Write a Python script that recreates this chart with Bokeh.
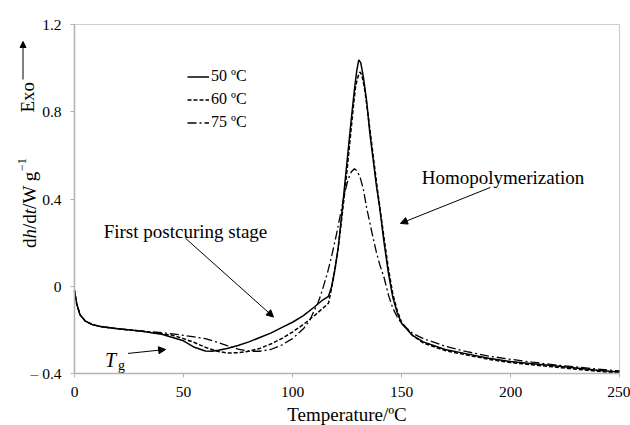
import math
from bokeh.plotting import figure
from bokeh.models import (Label, Arrow, NormalHead, BoxAnnotation, Legend, LegendItem,
                          FixedTicker, Range1d)
from bokeh.embed import file_html
from bokeh.resources import INLINE

# ---------------- data ----------------
t50 = [0, 1, 2.5, 5, 8, 12, 20, 30, 40, 45, 50, 55, 60, 63, 66, 70, 75, 80, 85, 90,
       95, 100, 105, 110, 114, 116.5, 118, 119.5, 121, 122.5, 124, 125.5, 127, 128.5,
       129.5, 130.4, 131.3, 132.5, 134, 135.5, 137, 138.5, 140, 142, 144, 146, 148,
       150, 155, 160, 170, 180, 190, 200, 210, 220, 230, 240, 250]
y50 = [-0.02, -0.08, -0.13, -0.16, -0.175, -0.185, -0.195, -0.205, -0.22, -0.235,
       -0.25, -0.28, -0.297, -0.298, -0.293, -0.285, -0.272, -0.255, -0.235, -0.215,
       -0.19, -0.165, -0.135, -0.095, -0.062, -0.046, 0.0, 0.08, 0.18, 0.32, 0.47,
       0.62, 0.77, 0.91, 0.99, 1.038, 1.025, 0.96, 0.85, 0.70, 0.58, 0.46, 0.36, 0.20,
       0.06, -0.05, -0.12, -0.17, -0.225, -0.255, -0.29, -0.31, -0.33, -0.345, -0.355,
       -0.365, -0.375, -0.385, -0.393]

t60 = [0, 1, 2.5, 5, 8, 12, 20, 30, 40, 45, 50, 55, 60, 65, 70, 75, 80, 85, 90, 95,
       100, 105, 110, 114, 116.5, 117.5, 119, 120.5, 122, 123.5, 125, 126.5, 128, 129,
       130, 130.9, 131.8, 133, 134.5, 136, 137.5, 139, 140.5, 142, 144, 146, 148, 150,
       155, 160, 170, 180, 190, 200, 210, 220, 230, 240, 250]
y60 = [-0.02, -0.08, -0.13, -0.16, -0.175, -0.185, -0.195, -0.205, -0.218, -0.225,
       -0.24, -0.258, -0.28, -0.297, -0.306, -0.305, -0.298, -0.285, -0.265, -0.24,
       -0.21, -0.175, -0.135, -0.10, -0.078, -0.03, 0.05, 0.14, 0.26, 0.39, 0.53, 0.68,
       0.83, 0.92, 0.96, 0.982, 0.97, 0.91, 0.80, 0.68, 0.56, 0.44, 0.33, 0.22, 0.08,
       -0.035, -0.11, -0.165, -0.225, -0.26, -0.295, -0.315, -0.335, -0.35, -0.36,
       -0.37, -0.38, -0.39, -0.398]

t75 = [0, 1, 2.5, 5, 8, 12, 20, 30, 40, 45, 50, 55, 60, 65, 70, 75, 80, 85, 90, 95,
       100, 105, 108, 110, 111.5, 113, 114.5, 116, 118, 120, 122, 124, 125.5, 127,
       128.4, 129.5, 131, 132.5, 134, 135.5, 137, 138.5, 140, 142, 144, 146, 148, 150,
       155, 160, 170, 180, 190, 200, 210, 220, 230, 240, 250]
y75 = [-0.02, -0.08, -0.13, -0.16, -0.175, -0.185, -0.195, -0.205, -0.213, -0.218,
       -0.225, -0.232, -0.24, -0.255, -0.272, -0.288, -0.298, -0.298, -0.29, -0.27,
       -0.24, -0.195, -0.155, -0.11, -0.08, -0.04, 0.01, 0.06, 0.14, 0.23, 0.33, 0.43,
       0.49, 0.525, 0.539, 0.53, 0.50, 0.445, 0.36, 0.29, 0.22, 0.155, 0.10, 0.04,
       -0.04, -0.10, -0.14, -0.17, -0.215, -0.24, -0.275, -0.30, -0.32, -0.335, -0.348,
       -0.36, -0.37, -0.38, -0.388]

series_labels = ["50 ºC", "60 ºC", "75 ºC"]
x_ticks = [0, 50, 100, 150, 200, 250]
y_ticks = [-0.4, 0, 0.4, 0.8, 1.2]
y_tick_labels = ["– 0.4", "0", "0.4", "0.8", "1.2"]
X_MIN, X_MAX = 0, 250
Y_MIN, Y_MAX = -0.4, 1.2

FONT = "Liberation Serif"

# ---------------- layout (pixels) ----------------
W, H = 630, 425
FL, FR, FT, FB = 74, 619, 24, 373      # plot-area edges in the picture
kx = (FR - FL) / (X_MAX - X_MIN)
ky = (FB - FT) / (Y_MAX - Y_MIN)

# the frame spans the whole canvas; axes are pinned to the data area
p = figure(width=W, height=H, output_backend="svg", toolbar_location=None,
           x_range=Range1d(X_MIN - FL / kx, X_MAX + (W - FR) / kx),
           y_range=Range1d(Y_MIN - (H - FB) / ky, Y_MAX + FT / ky),
           min_border=0)
p.background_fill_color = "white"
p.border_fill_color = "white"
p.outline_line_color = None
p.grid.visible = False

p.xaxis.fixed_location = Y_MIN
p.yaxis.fixed_location = X_MIN
p.xaxis.bounds = (X_MIN, X_MAX)
p.yaxis.bounds = (Y_MIN, Y_MAX)

for ax in (p.xaxis[0], p.yaxis[0]):
    ax.axis_line_color = "#b4b4b4"
    ax.axis_line_width = 1.5
    ax.major_tick_line_color = "#b4b4b4"
    ax.major_tick_out = 4
    ax.major_tick_in = 0
    ax.minor_tick_line_color = None
    ax.major_label_text_font = FONT
    ax.major_label_text_font_size = "15.5px"
    ax.major_label_text_color = "black"
    ax.major_label_standoff = 9

p.xaxis.ticker = FixedTicker(ticks=x_ticks)
p.yaxis.ticker = FixedTicker(ticks=y_ticks)
p.yaxis.major_label_overrides = {t: l for t, l in zip(y_ticks, y_tick_labels)}

# plot-area border (top/right visible; left/bottom covered by the axes)
p.add_layout(BoxAnnotation(left=X_MIN, right=X_MAX, bottom=Y_MIN, top=Y_MAX,
                           fill_alpha=0, line_color="#606060", line_width=1.2,
                           level="underlay"))

r50 = p.line(t50, y50, line_color="black", line_width=1.5)
r60 = p.line(t60, y60, line_color="black", line_width=1.5, line_dash="4 2")
r75 = p.line(t75, y75, line_color="black", line_width=1.3, line_dash="9 3 2 3")

legend = Legend(items=[LegendItem(label=series_labels[0], renderers=[r50]),
                       LegendItem(label=series_labels[1], renderers=[r60]),
                       LegendItem(label=series_labels[2], renderers=[r75])],
                location=(187, H - 131.5), orientation="vertical",
                glyph_width=22, glyph_height=19, label_height=19, spacing=4,
                label_standoff=2, padding=0, margin=0,
                border_line_color=None, background_fill_alpha=0,
                label_text_font=FONT, label_text_font_size="16px",
                label_text_color="black")
p.add_layout(legend, "center")

# ---------------- annotations ----------------
def sy(py):
    return H - py

def lab(text, px, py, size="19px", style="normal", align="center",
        baseline="alphabetic", angle=0.0):
    p.add_layout(Label(x=px, y=sy(py), x_units="screen", y_units="screen",
                       text=text, text_font=FONT, text_font_size=size,
                       text_font_style=style, text_align=align,
                       text_baseline=baseline, angle=angle, text_color="black"))

# x axis title
lab("Temperature/ºC", (FL + FR) / 2, 414)

# y axis title pieces (rotated, reading upward)
base_x = 29
B = 247.5
pieces = [("d", "normal", 9.5), ("h", "italic", 9.5), ("/d", "normal", 14.8),
          ("t", "italic", 5.3), ("/W g", "normal", 37.5)]
pos = B
for txt, sty, w in pieces:
    lab(txt, base_x, pos, style=sty, align="left", angle=math.pi / 2)
    pos -= w
lab("−1", base_x - 8, pos - 0.5, size="12px", align="left", angle=math.pi / 2)

# Exo with arrow
lab("Exo", 27, 112, size="19px", align="left", angle=math.pi / 2)
p.add_layout(Arrow(x_start=22.5, y_start=sy(79), x_end=22.5, y_end=sy(41),
                   start_units="screen", end_units="screen", line_width=1,
                   line_color="black",
                   end=NormalHead(size=6, fill_color="black", line_color="black")))

# text annotations
lab("Homopolymerization", 502.5, 177)
lab("First postcuring stage", 185, 231)
lab("T", 110, 359, size="20px", style="italic")
lab("g", 121, 365, size="14px")

def arrow(x0, y0, x1, y1):
    p.add_layout(Arrow(x_start=x0, y_start=y0, x_end=x1, y_end=y1,
                       line_width=1, line_color="black",
                       end=NormalHead(size=7, fill_color="black", line_color="black")))

arrow(190.8, 0.453, 149.5, 0.288)
arrow(50.9, 0.22, 91.3, -0.141)
arrow(24.5, -0.308, 41.8, -0.29)

open("out.html", "w").write(file_html(p, INLINE))
